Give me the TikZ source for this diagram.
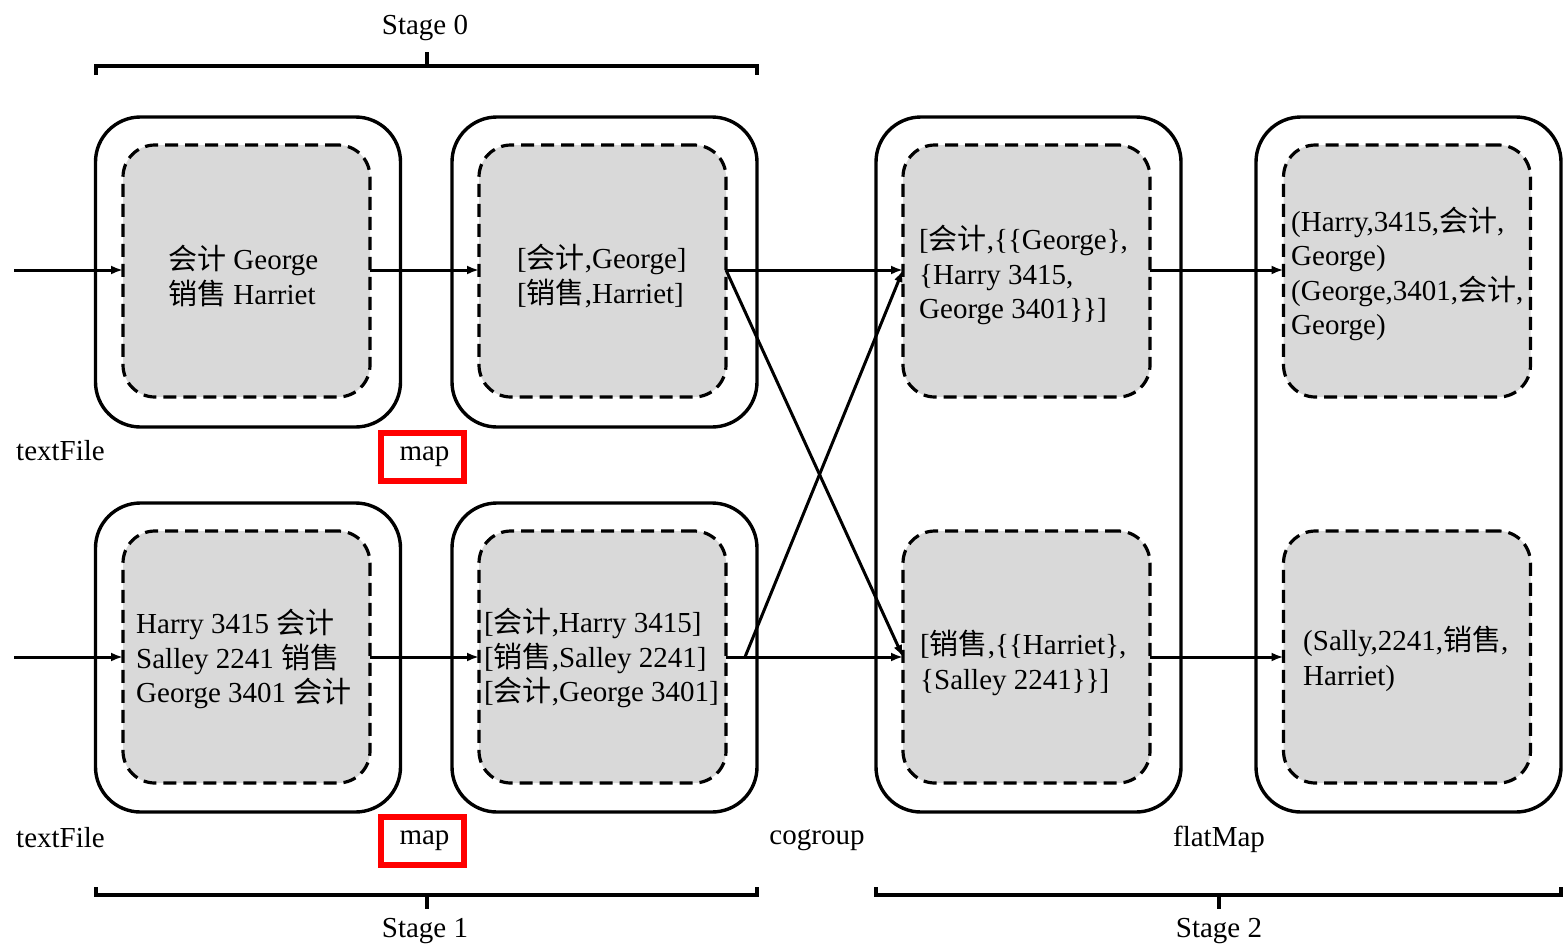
\documentclass[tikz,border=0pt]{standalone}
\usepackage{fontspec}
\setmainfont{Liberation Serif}
\newfontfamily\cjk{Noto Sans CJK SC}
\newcommand\zh[1]{{\cjk #1}}
\usetikzlibrary{arrows.meta}
\tikzset{
  outerbox/.style={draw, line width=3.4pt, rounded corners=45pt, minimum width=305pt, inner sep=0pt, outer sep=0pt},
  innerbox/.style={draw, line width=3.2pt, dash pattern=on 13pt off 7pt, fill=black!15, rounded corners=32pt, minimum width=247pt, minimum height=252pt, inner sep=0pt, outer sep=0pt},
  txt/.style={font=\fontsize{29}{34.5}\selectfont, inner sep=0pt, align=left},
  lbl/.style={font=\fontsize{29}{34.5}\selectfont, inner sep=0pt},
  mapbox/.style={draw=red, line width=5.5pt, minimum width=83pt, minimum height=48pt, inner sep=0pt, font=\fontsize{29}{34.5}\selectfont},
  flow/.style={line width=3pt, -{Latex[length=12pt,width=9pt]}},
  brace/.style={line width=3.2pt}
}
\begin{document}
\begin{tikzpicture}[x=1pt,y=-1pt]
\useasboundingbox (0,0) rectangle (1565,948);
% outer boxes
\node[outerbox, minimum height=310pt] (A1) at (248,272) {};
\node[outerbox, minimum height=310pt] (A2) at (604.5,272) {};
\node[outerbox, minimum height=309pt] (A3) at (248,657.5) {};
\node[outerbox, minimum height=309pt] (A4) at (604.5,657.5) {};
\node[outerbox, minimum height=695pt] (C) at (1028.5,464.5) {};
\node[outerbox, minimum height=695pt] (D) at (1408.5,464.5) {};
% inner boxes
\node[innerbox] (I1) at (246.5,271) {};
\node[innerbox] (I2) at (602.5,271) {};
\node[innerbox] (I3) at (246.5,657) {};
\node[innerbox] (I4) at (602.5,657) {};
\node[innerbox] (C1) at (1026.5,271) {};
\node[innerbox] (C2) at (1026.5,657) {};
\node[innerbox] (D1) at (1407,271) {};
\node[innerbox] (D2) at (1407,657) {};
% texts
\node[txt, anchor=west] (t1) at (168,276) {\zh{会计} George\\\zh{销售} Harriet};
\node[txt, anchor=west] (t2) at (517,276) {[\zh{会计},George]\\{}[\zh{销售},Harriet]};
\node[txt, anchor=west] (t3) at (136,659) {Harry 3415 \zh{会计}\\Salley 2241 \zh{销售}\\George 3401 \zh{会计}};
\node[txt, anchor=west] (t4) at (484,658) {[\zh{会计},Harry 3415]\\{}[\zh{销售},Salley 2241]\\{}[\zh{会计},George 3401]};
\node[txt, anchor=west] (t5) at (919,275) {[\zh{会计},\{\{George\},\\\{Harry 3415,\\George 3401\}\}]};
\node[txt, anchor=west] (t6) at (920,663) {[\zh{销售},\{\{Harriet\},\\\{Salley 2241\}\}]};
\node[txt, anchor=west] (t7) at (1291,274) {(Harry,3415,\zh{会计},\\George)\\(George,3401,\zh{会计},\\George)};
\node[txt, anchor=west] (t8) at (1303,659) {(Sally,2241,\zh{销售},\\Harriet)};
% labels
\node[lbl] (s0) at (425,28) {Stage 0};
\node[lbl] (s1) at (425,931) {Stage 1};
\node[lbl] (s2) at (1219,931) {Stage 2};
\node[lbl, anchor=west] (tf1) at (16,451) {textFile};
\node[lbl, anchor=west] (tf2) at (16,838) {textFile};
\node[lbl] (cg) at (817,840) {cogroup};
\node[lbl] (fm) at (1219,839) {flatMap};
\node[mapbox] (m1) at (422.5,457) {\hspace{4pt}map};
\node[mapbox] (m2) at (422.5,841) {\hspace{4pt}map};
% braces
\draw[brace] (96,75) -- (96,66) -- (757,66) -- (757,75);
\draw[brace] (427,66) -- (427,52);
\draw[brace] (96,887) -- (96,895) -- (757,895) -- (757,887);
\draw[brace] (427,895) -- (427,909);
\draw[brace] (876,887) -- (876,895) -- (1561,895) -- (1561,887);
\draw[brace] (1219,895) -- (1219,909);
% connectors
\coordinate (in1) at (14,270);
\coordinate (in2) at (14,657);
\coordinate (j4) at (745,657);
\draw[flow] (in1) -- (I1.west |- in1);
\draw[flow] (in2) -- (I3.west |- in2);
\draw[flow] (I1.east |- in1) -- (I2.west |- in1);
\draw[flow] (I3.east |- in2) -- (I4.west |- in2);
\draw[flow] (I2.east |- in1) -- (C1.west |- in1);
\draw[flow] (I2.east |- in1) -- (C2.west |- in2);
\draw[line width=3pt] (I4.east |- in2) -- (j4);
\draw[flow] (j4) -- (C2.west |- in2);
\draw[flow] (j4) -- (C1.west |- in1);
\draw[flow] (C1.east |- in1) -- (D1.west |- in1);
\draw[flow] (C2.east |- in2) -- (D2.west |- in2);
\end{tikzpicture}
\end{document}
